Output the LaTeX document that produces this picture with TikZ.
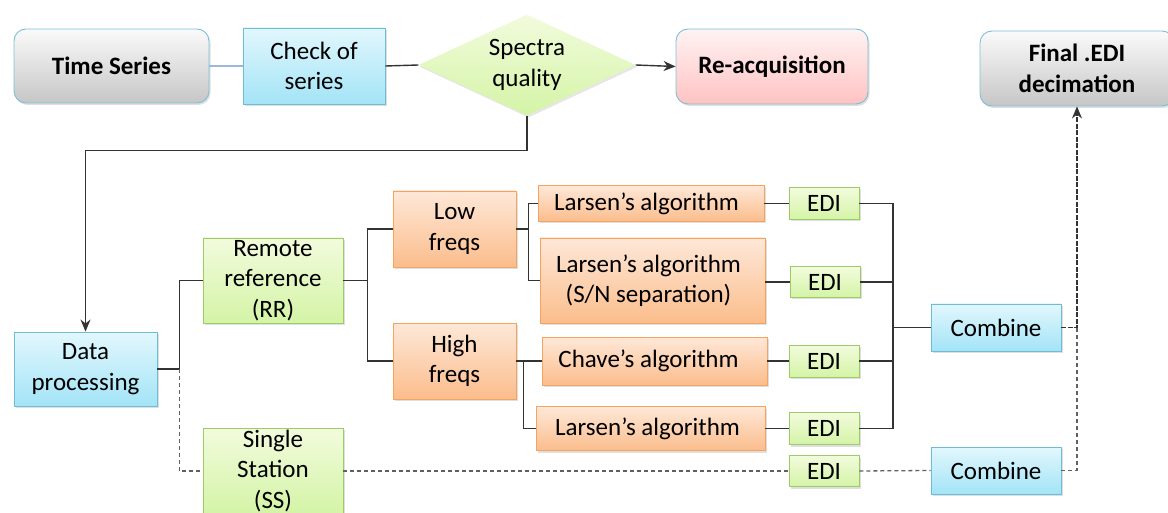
\documentclass[tikz,border=0pt]{standalone}
\usepackage{fontspec}
\setmainfont{Carlito}
\usetikzlibrary{shapes.geometric,shadows,arrows.meta}
\definecolor{blueT}{HTML}{E2F7FD}
\definecolor{blueB}{HTML}{A3E4F7}
\definecolor{blueD}{HTML}{6FBCD6}
\definecolor{greenT}{HTML}{F2FBDD}
\definecolor{greenB}{HTML}{D4F4A6}
\definecolor{greenD}{HTML}{9DCB68}
\definecolor{orT}{HTML}{FEE8D8}
\definecolor{orB}{HTML}{FBBD8C}
\definecolor{orD}{HTML}{F5A35E}
\definecolor{grT}{HTML}{FAFAFA}
\definecolor{grB}{HTML}{C6C6C6}
\definecolor{pkT}{HTML}{FFF3F3}
\definecolor{pkB}{HTML}{FFC2C2}
\definecolor{rimD}{HTML}{7CC0D8}
\definecolor{lineD}{HTML}{333333}
\definecolor{lineG}{HTML}{606060}
\definecolor{lineB}{HTML}{9AB8DA}
\begin{document}
\begin{tikzpicture}[x=1pt,y=-1pt,
  font=\fontsize{25}{30.5}\selectfont,
  box/.style={draw, line width=0.9pt, inner sep=0pt, align=center,
    drop shadow={shadow xshift=1.5pt, shadow yshift=-2pt, opacity=0.25}},
  bluebox/.style={box, draw=blueD, top color=blueT, bottom color=blueB},
  greenbox/.style={box, draw=greenD, top color=greenT, bottom color=greenB},
  orbox/.style={box, draw=orD, top color=orT, bottom color=orB},
  graybox/.style={box, draw=rimD, rounded corners=12pt, top color=grT, bottom color=grB, font=\fontsize{25}{30.5}\selectfont\bfseries},
  pinkbox/.style={box, draw=rimD, rounded corners=12pt, top color=pkT, bottom color=pkB, font=\fontsize{25}{30.5}\selectfont\bfseries},
  conn/.style={draw=lineD, line width=1.4pt},
  dconn/.style={draw=lineG, line width=1.3pt, dash pattern=on 4pt off 3pt},
  arr/.style={-{Stealth[length=12pt,width=10pt]}}
]
\useasboundingbox (0,0) rectangle (1168,513);
\clip (0,0) rectangle (1168,513);

% top row
\node[graybox, minimum width=195pt, minimum height=74pt] (ts) at (111.5,66) {Time Series};
\node[bluebox, minimum width=142pt, minimum height=76pt] (check) at (314,66) {Check of\\series};
\node[diamond, draw=none, inner sep=0pt, aspect=2.15, minimum width=217pt, minimum height=101pt,
  top color=greenT, bottom color=greenB, align=center,
  drop shadow={shadow xshift=1.5pt, shadow yshift=-2pt, opacity=0.2}] (spec) at (527,65) {Spectra\\quality};
\node[pinkbox, minimum width=192pt, minimum height=75pt] (reacq) at (772,66.5) {Re-acquisition};
\node[graybox, minimum width=194pt, minimum height=75pt] (final) at (1077,68.5) {Final .EDI\\decimation};

% left column
\node[bluebox, minimum width=143pt, minimum height=74pt] (dp) at (85.5,369) {Data\\processing};
\node[greenbox, minimum width=140pt, minimum height=85pt] (rr) at (273,280.5) {Remote\\reference\\(RR)};
\node[greenbox, minimum width=140pt, minimum height=86pt] (ss) at (273,471) {Single\\Station\\(SS)};

% freqs
\node[orbox, minimum width=123pt, minimum height=76pt] (low) at (454.5,229) {Low\\freqs};
\node[orbox, minimum width=123pt, minimum height=76pt] (high) at (454.5,361) {High\\freqs};

% algorithms
\node[orbox, minimum width=226pt, minimum height=36pt] (lar1) at (651,203.5) {\hspace*{-9pt}Larsen’s algorithm};
\node[orbox, minimum width=225pt, minimum height=85pt] (lar2) at (652.5,280.5) {\hspace*{-8pt}Larsen’s algorithm\\\hspace*{-8pt}(S/N separation)};
\node[orbox, minimum width=225pt, minimum height=48pt] (chave) at (654.5,361) {\hspace*{-12pt}Chave’s algorithm};
\node[orbox, minimum width=229pt, minimum height=44pt] (lar3) at (650.5,428.5) {\hspace*{-6pt}Larsen’s algorithm};

% EDI
\node[greenbox, minimum width=70pt, minimum height=32pt] (edi1) at (824,203.5) {EDI};
\node[greenbox, minimum width=70pt, minimum height=31pt] (edi2) at (825,282) {EDI};
\node[greenbox, minimum width=70pt, minimum height=32pt] (edi3) at (824,361) {EDI};
\node[greenbox, minimum width=70pt, minimum height=32pt] (edi4) at (824,428.5) {EDI};
\node[greenbox, minimum width=70pt, minimum height=31pt] (edi5) at (824,471) {EDI};

% combine
\node[bluebox, minimum width=130pt, minimum height=47pt] (comb1) at (996,327.5) {Combine};
\node[bluebox, minimum width=130pt, minimum height=47pt] (comb2) at (996,470.5) {Combine};

% connectors top
\draw[draw=lineB, line width=1.3pt] (ts.east) -- (check.west);
\draw[conn] (check.east) -- (spec.west);
\draw[conn, arr] (spec.east) -- (reacq.west);
\draw[conn, arr] (spec.south) -- ++(0,35) -| (dp.north);

% data processing branches
\draw[conn] (dp.east) -- ++(22,0) coordinate (db) |- (rr.west);
\draw[dconn] (db) |- (ss.west);

% RR branches
\draw[conn] (rr.east) -- ++(24,0) coordinate (rb) |- (low.west);
\draw[conn] (rb) |- (high.west);

% low branches
\draw[conn] (low.east) -- ++(12,0) coordinate (lb) |- (lar1.west);
\draw[conn] (lb) |- (lar2.west);

% high branches
\draw[conn] (high.east) -- ++(7,0) coordinate (hb) -- (chave.west);
\draw[conn] (hb) |- (lar3.west);

% algorithms to EDI
\draw[conn] (lar1.east) -- (edi1.west);
\draw[conn] (lar2.east |- edi2.west) -- (edi2.west);
\draw[conn] (chave.east) -- (edi3.west);
\draw[conn] (lar3.east) -- (edi4.west);

% EDI bus to combine
\coordinate (bus) at (893,0);
\draw[conn] (edi1.east) -| (bus |- edi4.east) -- (edi4.east);
\draw[conn] (edi2.east) -- (bus |- edi2.east);
\draw[conn] (edi3.east) -- (bus |- edi3.east);
\draw[conn] (bus |- comb1.west) -- (comb1.west);

% single station path
\draw[dconn] (ss.east) -- (edi5.west);
\draw[dconn] (edi5.east) -- (comb2.west);
\coordinate (j) at (final.south |- comb1.east);
\draw[dconn] (comb2.east) -| (j);
\draw[conn, dash pattern=on 5pt off 1.5pt, arr] (comb1.east) -| (final.south);
\end{tikzpicture}
\end{document}
